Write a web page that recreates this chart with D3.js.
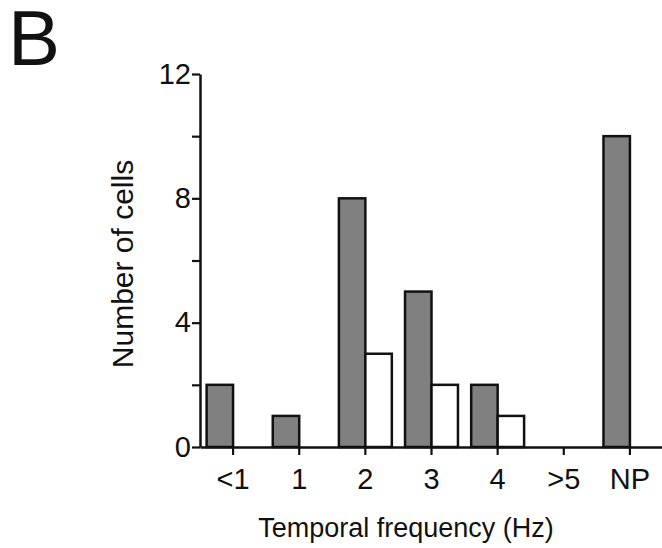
<!DOCTYPE html>
<html>
<head>
<meta charset="utf-8">
<script src="https://cdn.jsdelivr.net/npm/d3@7"></script>
<style>
  body { margin: 0; background: #fff; }
  svg { display: block; font-family: "Liberation Sans", Arial, sans-serif; }
</style>
</head>
<body>
<div class="canvas"></div>
<script>
// data
const categories = ['<1', '1', '2', '3', '4', '>5', 'NP'];
const grayCounts = [2, 1, 8, 5, 2, 0, 10];
const whiteCounts = [0, 0, 3, 2, 1, 0, 0];
const yTicks = [0, 2, 4, 6, 8, 10, 12];
const yLabels = [0, 4, 8, 12];

const svg = d3.select('.canvas')
    .append('svg')
    .attr('width', 662)
    .attr('height', 548);

// scales
const x = d3.scaleBand()
    .domain(categories)
    .range([200, 663])
    .padding(0);

const y = d3.scaleLinear()
    .domain([0, 12])
    .range([447, 74]);

const barW = x.step() * 0.4;

// bars: gray sits left of the tick, white right of it
const rows = categories.map((c, i) => ({cat: c, gray: grayCounts[i], white: whiteCounts[i]}));

svg.append('g').selectAll('rect')
    .data(rows.filter(d => d.gray > 0))
    .enter().append('rect')
    .attr('x', d => x(d.cat) + x.bandwidth() / 2 - barW)
    .attr('y', d => y(d.gray))
    .attr('width', barW)
    .attr('height', d => y(0) - y(d.gray))
    .attr('fill', '#808080')
    .attr('stroke', '#111')
    .attr('stroke-width', 2.5);

svg.append('g').selectAll('rect')
    .data(rows.filter(d => d.white > 0))
    .enter().append('rect')
    .attr('x', d => x(d.cat) + x.bandwidth() / 2)
    .attr('y', d => y(d.white))
    .attr('width', barW)
    .attr('height', d => y(0) - y(d.white))
    .attr('fill', '#fff')
    .attr('stroke', '#111')
    .attr('stroke-width', 2.5);

// axes
const xAxis = d3.axisBottom(x)
    .tickSize(8)
    .tickSizeOuter(0)
    .tickPadding(13);

const yAxis = d3.axisLeft(y)
    .tickValues(yTicks)
    .tickSize(8)
    .tickSizeOuter(0)
    .tickPadding(1)
    .tickFormat(d => yLabels.includes(d) ? d : '');

const xAxisGroup = svg.append('g')
    .attr('transform', `translate(0, ${y(0)})`)
    .call(xAxis);

const yAxisGroup = svg.append('g')
    .attr('transform', `translate(${x.range()[0]}, 0)`)
    .call(yAxis);

[xAxisGroup, yAxisGroup].forEach(g => {
    g.select('.domain').attr('stroke', '#111').attr('stroke-width', 2.5);
    g.selectAll('.tick line').attr('stroke', '#111').attr('stroke-width', 2.2);
    g.selectAll('text')
        .attr('fill', '#111')
        .style('font-size', '29px')
        .style('font-family', '"Liberation Sans", Arial, sans-serif');
});

// titles
svg.append('text')
    .attr('x', 406)
    .attr('y', 537)
    .attr('text-anchor', 'middle')
    .attr('fill', '#111')
    .style('font-size', '27px')
    .text('Temporal frequency (Hz)');

svg.append('text')
    .attr('transform', 'translate(133, 264) rotate(-90)')
    .attr('text-anchor', 'middle')
    .attr('fill', '#111')
    .style('font-size', '30px')
    .text('Number of cells');

svg.append('text')
    .attr('x', 8)
    .attr('y', 65)
    .attr('fill', '#111')
    .style('font-size', '78px')
    .text('B');
</script>
</body>
</html>
